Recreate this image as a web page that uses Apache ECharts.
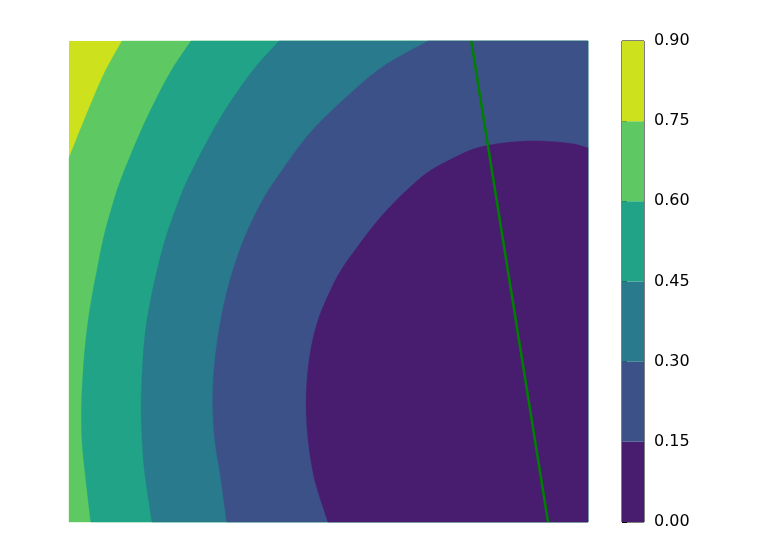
<!DOCTYPE html>
<html>
<head>
<meta charset="utf-8">
<script src="https://cdn.jsdelivr.net/npm/echarts@6/dist/echarts.min.js"></script>
<style>
  html, body { margin: 0; padding: 0; background: #fff; }
  #chart { width: 766px; height: 557px; }
</style>
</head>
<body>
<div id="chart"></div>
<script>
// contour levels and viridis band colours (low -> high)
const levels = [0.00, 0.15, 0.30, 0.45, 0.60, 0.75, 0.90];
const bandColors = ['#481d6f', '#3d5189', '#287a8c', '#20a386', '#5ec962', '#cde11d'];

// contour boundaries, each from top/right edge down to bottom/left edge
const edge75 = [[0.102, 1.0], [0.067, 0.931], [0.039, 0.861], [0.013, 0.792], [0.0, 0.757]];
const edge60 = [[0.235, 1.0], [0.198, 0.940], [0.164, 0.871], [0.134, 0.802], [0.101, 0.715], [0.085, 0.663],
  [0.067, 0.593], [0.054, 0.524], [0.042, 0.455], [0.033, 0.385], [0.027, 0.310], [0.024, 0.239],
  [0.025, 0.170], [0.031, 0.102], [0.042, 0.0]];
const edge45 = [[0.405, 1.0], [0.358, 0.944], [0.312, 0.875], [0.274, 0.807], [0.231, 0.717], [0.210, 0.663],
  [0.187, 0.593], [0.170, 0.524], [0.156, 0.455], [0.146, 0.385], [0.141, 0.310], [0.139, 0.239],
  [0.141, 0.170], [0.146, 0.102], [0.160, 0.0]];
const edge30 = [[0.692, 1.0], [0.601, 0.944], [0.524, 0.873], [0.459, 0.802], [0.399, 0.713], [0.370, 0.663],
  [0.339, 0.593], [0.316, 0.524], [0.299, 0.455], [0.287, 0.385], [0.279, 0.310], [0.277, 0.239],
  [0.281, 0.170], [0.291, 0.102], [0.304, 0.0]];
const edge15 = [[1.0, 0.778], [0.960, 0.788], [0.882, 0.792], [0.794, 0.780], [0.734, 0.753], [0.690, 0.726],
  [0.651, 0.690], [0.613, 0.649], [0.580, 0.607], [0.551, 0.565], [0.528, 0.530], [0.507, 0.489],
  [0.480, 0.420], [0.464, 0.347], [0.457, 0.264], [0.459, 0.191], [0.466, 0.129], [0.476, 0.077], [0.499, 0.0]];
// region below each level, paired with the colour of the band underneath it
const edges = [edge75, edge60, edge45, edge30, edge15];

// green straight line
const lineX = [0.775, 0.923];
const lineY = [1.0, 0.0];

const X0 = 0, X1 = 1, Y0 = 0, Y1 = 1;

// frame corners needed to close a boundary toward the bottom-right corner
function closingCorners(pts) {
  const out = [];
  if (pts[pts.length - 1][0] === X0) out.push([X0, Y0]);
  out.push([X1, Y0]);
  if (pts[0][1] === Y1) out.push([X1, Y1]);
  return out;
}

// smooth curve through the pixel points (catmull-rom as cubic beziers)
function curvePath(p) {
  let d = 'M' + p[0][0] + ' ' + p[0][1];
  for (let i = 0; i < p.length - 1; i++) {
    const a = p[i - 1] || p[i], b = p[i], c = p[i + 1], e = p[i + 2] || c;
    const c1 = [b[0] + (c[0] - a[0]) / 6, b[1] + (c[1] - a[1]) / 6];
    const c2 = [c[0] - (e[0] - b[0]) / 6, c[1] - (e[1] - b[1]) / 6];
    d += 'C' + c1[0] + ' ' + c1[1] + ' ' + c2[0] + ' ' + c2[1] + ' ' + c[0] + ' ' + c[1];
  }
  return d;
}

const chart = echarts.init(document.getElementById('chart'), null, { renderer: 'canvas' });

chart.setOption({
  backgroundColor: '#fff',
  animation: false,
  grid: [
    { left: 69, top: 41, width: 519, height: 481 },
    { left: 622, top: 41, width: 22, height: 481, show: true, borderColor: '#000', borderWidth: 1, backgroundColor: 'transparent' },
  ],
  xAxis: [
    { gridIndex: 0, type: 'value', min: X0, max: X1, show: false },
    { gridIndex: 1, type: 'value', min: 0, max: 1, show: false },
  ],
  yAxis: [
    { gridIndex: 0, type: 'value', min: Y0, max: Y1, show: false },
    {
      gridIndex: 1, type: 'value', position: 'right', min: 0, max: 0.9, interval: 0.15,
      axisLine: { show: false },
      axisTick: { show: true, length: 5, lineStyle: { color: '#000', width: 1 } },
      axisLabel: { color: '#000', fontFamily: 'DejaVu Sans', fontSize: 16, margin: 10, padding: [3, 0, 0, 0], formatter: v => v.toFixed(2) },
      splitLine: { show: false },
    },
  ],
  series: [
    {
      type: 'custom', xAxisIndex: 0, yAxisIndex: 0, silent: true,
      data: [[-1]].concat(edges.map((e, i) => [i])),
      renderItem: (params, api) => {
        const k = api.value(0);
        if (k < 0) {
          const a = api.coord([X0, Y1]), b = api.coord([X1, Y0]);
          return { type: 'rect', shape: { x: a[0], y: a[1], width: b[0] - a[0], height: b[1] - a[1] }, style: { fill: bandColors[5] } };
        }
        const pts = edges[k].map(p => api.coord(p));
        let d = curvePath(pts);
        closingCorners(edges[k]).forEach(c => { const q = api.coord(c); d += 'L' + q[0] + ' ' + q[1]; });
        d += 'Z';
        const col = bandColors[4 - k];
        return { type: 'path', shape: { pathData: d }, style: { fill: col, stroke: col, lineWidth: 0.4 } };
      },
    },
    {
      type: 'line', xAxisIndex: 0, yAxisIndex: 0, silent: true,
      data: lineX.map((x, i) => [x, lineY[i]]),
      showSymbol: false, lineStyle: { color: '#008000', width: 2.5 },
    },
    {
      type: 'custom', xAxisIndex: 1, yAxisIndex: 1, silent: true,
      data: bandColors.map((c, i) => [levels[i], levels[i + 1]]),
      renderItem: (params, api) => {
        const a = api.coord([0, api.value(0)]);
        const b = api.coord([1, api.value(1)]);
        return {
          type: 'rect',
          shape: { x: a[0], y: b[1], width: b[0] - a[0], height: a[1] - b[1] },
          style: { fill: bandColors[params.dataIndex] },
        };
      },
    },
  ],
});
</script>
</body>
</html>
